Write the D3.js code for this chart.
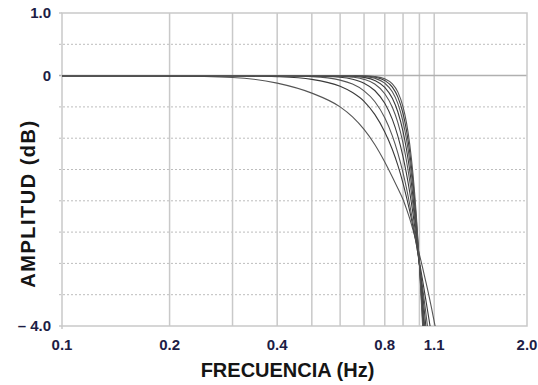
<!DOCTYPE html>
<html>
<head>
<meta charset="utf-8">
<script src="https://cdn.jsdelivr.net/npm/d3@7"></script>
<style>
  body { margin: 0; background: #fff; }
  svg { display: block; }
  text { font-family: "Liberation Sans", Arial, sans-serif; font-weight: bold; }
</style>
</head>
<body>
<div id="chart"></div>
<script>
// chart size + plot box
const width = 538, height = 385;
const margin = {top: 13, right: 11, bottom: 59, left: 62};

// frequencies (Hz) the curves were read at
const freq = [0.1, 0.2, 0.3, 0.4, 0.5, 0.6, 0.65, 0.7, 0.75, 0.8, 0.84, 0.87,
              0.9, 0.92, 0.94, 0.96, 0.98, 1.0, 1.02, 1.04, 1.06, 1.08, 1.1, 1.12];

// amplitude (dB) of each response, null where it has left the plot
const curve1 = [0, -0.007, -0.03, -0.12, -0.28, -0.5, -0.66, -0.86, -1.1, -1.38, -1.62, -1.8,
                -1.98, -2.13, -2.29, -2.47, -2.66, -2.86, -3.06, -3.27, -3.48, -3.7, -3.93, -4.15];
const curve2 = [0, 0, -0.003, -0.018, -0.06, -0.17, -0.27, -0.41, -0.62, -0.9, -1.18, -1.43,
                -1.72, -1.94, -2.17, -2.42, -2.69, -2.97, -3.26, -3.55, -3.84, -4.13, null, null];
const curve3 = [0, 0, 0, -0.003, -0.017, -0.072, -0.136, -0.243, -0.414, -0.674, -0.962, -1.233,
                -1.555, -1.799, -2.067, -2.359, -2.673, -3.01, -3.368, -3.745, -4.139, null, null, null];
const curve4 = [0, 0, 0, 0, -0.004, -0.026, -0.058, -0.121, -0.238, -0.443, -0.7, -0.964,
                -1.299, -1.567, -1.871, -2.214, -2.594, -3.01, -3.462, -3.945, -4.457, null, null, null];
const curve5 = [0, 0, 0, 0, 0, -0.009, -0.025, -0.06, -0.135, -0.289, -0.505, -0.748,
                -1.08, -1.36, -1.691, -2.076, -2.516, -3.01, -3.557, -4.151, null, null, null, null];
const curve6 = [0, 0, 0, 0, 0, -0.003, -0.01, -0.029, -0.077, -0.187, -0.363, -0.578,
                -0.895, -1.177, -1.524, -1.944, -2.439, -3.01, -3.654, -4.364, null, null, null, null];
const curve7 = [0, 0, 0, 0, 0, -0.001, -0.004, -0.014, -0.043, -0.121, -0.259, -0.444,
                -0.738, -1.015, -1.372, -1.82, -2.365, -3.01, -3.753, -4.583, null, null, null, null];
const curve8 = [0, 0, 0, 0, 0, 0, -0.002, -0.007, -0.024, -0.078, -0.184, -0.34,
                -0.607, -0.874, -1.233, -1.701, -2.292, -3.01, -3.853, -4.808, null, null, null, null];
const curve9 = [0, 0, 0, 0, 0, 0, -0.001, -0.003, -0.014, -0.05, -0.131, -0.26,
                -0.498, -0.752, -1.106, -1.59, -2.221, -3.01, -3.955, -5.039, null, null, null, null];

const curves = [curve1, curve2, curve3, curve4, curve5, curve6, curve7, curve8, curve9];

// grid + tick labels
const xGrid = [0.2, 0.3, 0.4, 0.5, 0.6, 0.7, 0.8, 0.9, 1.0, 1.1];
const xTicks = [0.1, 0.2, 0.4, 0.8, 1.1, 2.0];
const yGrid = [0.5, -0.5, -1, -1.5, -2, -2.5, -3, -3.5];
const yTicks = [1, 0, -4];
const yTickText = {"1": "1.0", "0": "0", "-4": "\u2013 4.0"};

const svg = d3.select("#chart")
  .append("svg")
  .attr("width", width)
  .attr("height", height);

let x = d3.scaleLog()
  .domain([0.1, 2])
  .range([margin.left, width - margin.right]);

let y = d3.scaleLinear()
  .domain([-4, 1])
  .range([height - margin.bottom, margin.top]);

const gridCol = "#c9c9c9";

// dotted horizontal grid
svg.append("g")
  .selectAll("line")
  .data(yGrid)
  .join("line")
    .attr("x1", margin.left - 3)
    .attr("x2", width - margin.right)
    .attr("y1", d => y(d))
    .attr("y2", d => y(d))
    .attr("stroke", "#bdbdbd")
    .attr("stroke-width", 1)
    .attr("stroke-dasharray", "2,2");

// solid vertical grid
svg.append("g")
  .selectAll("line")
  .data(xGrid)
  .join("line")
    .attr("x1", d => x(d))
    .attr("x2", d => x(d))
    .attr("y1", margin.top)
    .attr("y2", height - margin.bottom)
    .attr("stroke", gridCol)
    .attr("stroke-width", 1.5);

// zero line, frame
svg.append("line")
  .attr("x1", margin.left - 3).attr("x2", width - margin.right)
  .attr("y1", y(0)).attr("y2", y(0))
  .attr("stroke", "#b0b0b0").attr("stroke-width", 1.5);

svg.append("rect")
  .attr("x", margin.left)
  .attr("y", margin.top)
  .attr("width", width - margin.left - margin.right)
  .attr("height", height - margin.top - margin.bottom)
  .attr("fill", "none")
  .attr("stroke", gridCol)
  .attr("stroke-width", 1.5);

// little ticks sticking out left / bottom
svg.append("g")
  .selectAll("line")
  .data([1, -4])
  .join("line")
    .attr("x1", margin.left - 3).attr("x2", margin.left)
    .attr("y1", d => y(d)).attr("y2", d => y(d))
    .attr("stroke", gridCol).attr("stroke-width", 1.5);
svg.append("line")
  .attr("x1", margin.left).attr("x2", margin.left)
  .attr("y1", height - margin.bottom).attr("y2", height - margin.bottom + 3)
  .attr("stroke", gridCol).attr("stroke-width", 1.5);

// clip curves to plot box
svg.append("clipPath")
  .attr("id", "plotclip")
  .append("rect")
    .attr("x", margin.left)
    .attr("y", margin.top)
    .attr("width", width - margin.left - margin.right)
    .attr("height", height - margin.bottom - margin.top);

const line = d3.line()
  .defined(d => d[1] !== null)
  .x(d => x(d[0]))
  .y(d => y(d[1]))
  .curve(d3.curveMonotoneX);

svg.append("g")
  .attr("clip-path", "url(#plotclip)")
  .selectAll("path")
  .data(curves)
  .join("path")
    .attr("d", c => line(freq.map((f, i) => [f, c[i]])))
    .attr("fill", "none")
    .attr("stroke", (c, i) => i % 2 ? "#3a3a3a" : "#555")
    .attr("stroke-width", 1.1);

// tick labels
const tickCol = "#1d1d45";

svg.append("g")
  .selectAll("text")
  .data(xTicks)
  .join("text")
    .attr("x", d => x(d))
    .attr("y", height - margin.bottom + 24)
    .attr("text-anchor", "middle")
    .attr("font-size", 15)
    .attr("fill", tickCol)
    .text(d => d.toFixed(1));

svg.append("g")
  .selectAll("text")
  .data(yTicks)
  .join("text")
    .attr("x", margin.left - 11)
    .attr("y", d => y(d) + 5)
    .attr("text-anchor", "end")
    .attr("font-size", 15)
    .attr("fill", tickCol)
    .text(d => yTickText[d]);

// axis titles
svg.append("text")
  .attr("x", (margin.left + width - margin.right) / 2 - 7)
  .attr("y", 377)
  .attr("text-anchor", "middle")
  .attr("font-size", 20)
  .attr("fill", "#151515")
  .text("FRECUENCIA (Hz)");

svg.append("text")
  .attr("transform", `translate(35, ${(117 + 290) / 2}) rotate(-90)`)
  .attr("text-anchor", "middle")
  .attr("font-size", 20)
  .attr("letter-spacing", 1.5)
  .attr("fill", "#151515")
  .text("AMPLITUD (dB)");
</script>
</body>
</html>
